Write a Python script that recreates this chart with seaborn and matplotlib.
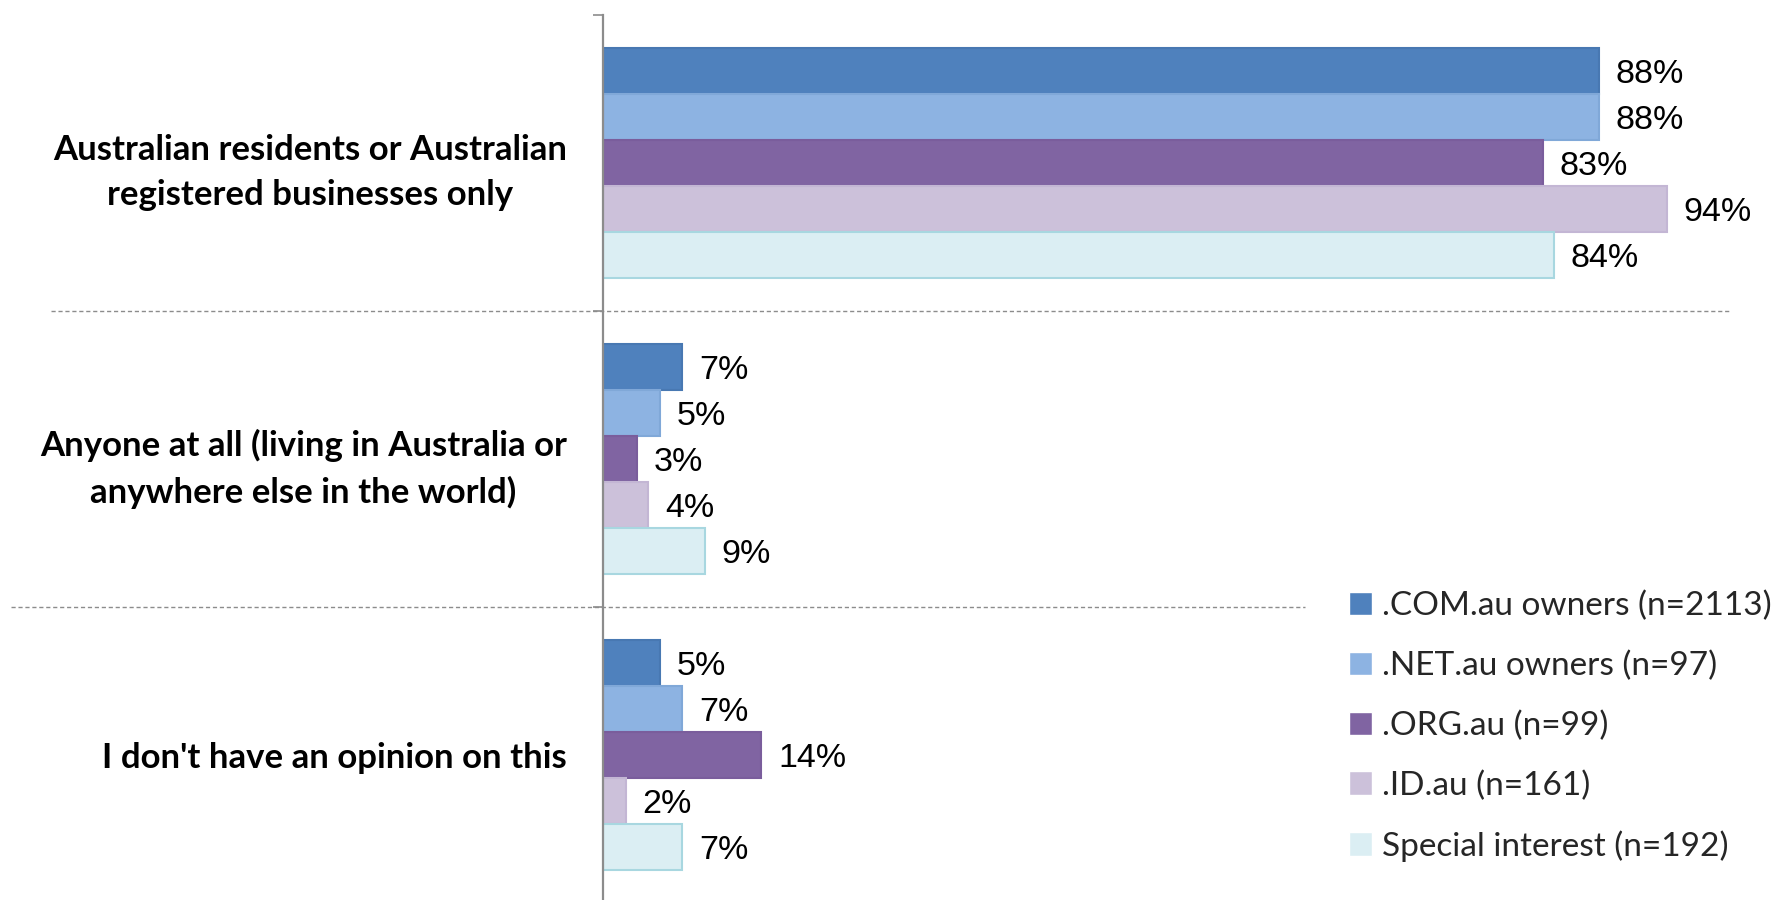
import matplotlib
matplotlib.use("Agg")
import matplotlib.pyplot as plt
import seaborn as sns
import pandas as pd
from matplotlib.ticker import FixedLocator

# Survey answers: who should be allowed to register .au domain names
categories = [
    "Australian residents or Australian\nregistered businesses only",
    "Anyone at all (living in Australia or\nanywhere else in the world)",
    "I don't have an opinion on this",
]
series = [
    ".COM.au owners (n=2113)",
    ".NET.au owners (n=97)",
    ".ORG.au (n=99)",
    ".ID.au (n=161)",
    "Special interest (n=192)",
]
com_au = [88, 7, 5]
net_au = [88, 5, 7]
org_au = [83, 3, 14]
id_au = [94, 4, 2]
special_interest = [84, 9, 7]

fill_colors = ["#4F81BD", "#8DB3E2", "#8064A2", "#CCC1DA", "#DBEEF3"]
edge_colors = ["#4878B2", "#80A8D8", "#7A5D9C", "#C3B6D4", "#A8D7E0"]

rows = []
for name, vals in zip(series, [com_au, net_au, org_au, id_au, special_interest]):
    for cat, v in zip(categories, vals):
        rows.append({"category": cat, "series": name, "value": v})
df = pd.DataFrame(rows)

sns.set_style("white")
fig = plt.figure(figsize=(17.79, 9), dpi=100)
ax = fig.add_axes([603 / 1779, -3 / 900, 1132 / 1779, 888 / 900])

sns.barplot(
    data=df, y="category", x="value", hue="series",
    order=categories, hue_order=series, palette=fill_colors,
    orient="h", width=0.78, saturation=1, ax=ax, legend=True,
)

for cont, ec in zip(ax.containers, edge_colors):
    for bar in cont:
        bar.set_edgecolor(ec)
        bar.set_linewidth(1.5)
    texts = ax.bar_label(cont, fmt="{:.0f}%", padding=12,
                         fontsize=24.5, family="Liberation Sans", color="black")
    for t in texts:
        t.set_va("center_baseline")

ax.set_xlim(0, 100)
ax.set_ylim(2.5, -0.5)
ax.set_xlabel("")
ax.set_ylabel("")
ax.set_xticks([])

for s in ["top", "right", "bottom"]:
    ax.spines[s].set_visible(False)
ax.spines["left"].set_color("#8c8c8c")
ax.spines["left"].set_linewidth(1.6)

# category boundaries as small outward ticks
ax.yaxis.set_minor_locator(FixedLocator([-0.5, 0.5, 1.5, 2.5]))
ax.tick_params(axis="y", which="minor", length=7, width=1.2, color="#8c8c8c", left=True)
ax.tick_params(axis="y", which="major", length=0, pad=26)
for lab in ax.get_yticklabels():
    lab.set_fontfamily("Lato")
    lab.set_fontweight("bold")
    lab.set_fontsize(25)
    lab.set_multialignment("center")
    lab.set_linespacing(1.5)
    lab.set_color("black")

# dashed separators between answer groups
ax.axhline(0.5, xmin=-0.488, xmax=0.996, clip_on=False,
           color="#8c8c8c", lw=1.0, ls=(0, (3, 2)))
ax.axhline(1.5, xmin=-0.523, xmax=0.620, clip_on=False,
           color="#8c8c8c", lw=1.0, ls=(0, (3, 2)))

handles, labels = ax.get_legend_handles_labels()
ax.legend(
    handles, labels, loc="upper left",
    bbox_to_anchor=(1349 / 1779, 1 - 591 / 900), bbox_transform=fig.transFigure,
    frameon=False, prop={"family": "Lato", "size": 24},
    handlelength=0.7, handleheight=0.7, handletextpad=0.3,
    labelspacing=0.88, borderpad=0, borderaxespad=0,
)

fig.savefig("out.png", dpi=100, facecolor="white")
